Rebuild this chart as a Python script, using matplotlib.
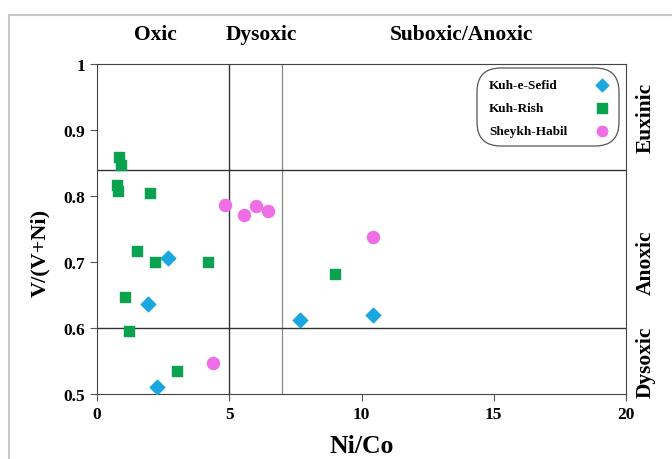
import matplotlib.pyplot as plt
from matplotlib.patches import Rectangle, FancyBboxPatch

# Ni/Co vs V/(V+Ni) data
sefid_x = [2.68, 1.93, 7.66, 10.43, 2.27]
sefid_y = [0.706, 0.636, 0.612, 0.620, 0.511]

rish_x = [0.84, 0.90, 0.74, 0.81, 2.02, 1.52, 2.20, 4.20, 9.01, 1.07, 1.20, 3.02]
rish_y = [0.859, 0.847, 0.817, 0.808, 0.805, 0.717, 0.700, 0.700, 0.682, 0.647, 0.596, 0.535]

habil_x = [4.85, 5.56, 6.01, 6.48, 10.43, 4.39]
habil_y = [0.786, 0.771, 0.785, 0.777, 0.738, 0.547]

x_ticks = [0, 5, 10, 15, 20]
y_ticks = [0.5, 0.6, 0.7, 0.8, 0.9, 1.0]
y_ticklabels = ['0.5', '0.6', '0.7', '0.8', '0.9', '1']

plt.rcParams['font.family'] = ['Liberation Serif', 'DejaVu Serif']
plt.rcParams['font.weight'] = 'bold'

W, H = 672, 460
fig = plt.figure(figsize=(W / 100, H / 100), dpi=100)
ax = fig.add_axes([97 / W, 1 - 395 / H, 529 / W, 330 / H])

def ax_xy(px, py):
    # pixel position -> axes fraction
    return (px - 97) / 529, (395 - py) / 330

# light frame around the figure
fig.patches.append(Rectangle((9 / W, -0.01), 1.0, 1 - 16 / H + 0.01, transform=fig.transFigure,
                             fill=False, edgecolor='#c8c8c8', linewidth=1.5))

# boundary lines
ax.axvline(5, color='#333333', lw=1.0)
ax.axvline(7, color='#888888', lw=0.9)
ax.axhline(0.84, color='#333333', lw=1.0)
ax.axhline(0.6, color='#333333', lw=1.0)

groups = [
    ('Kuh-e-Sefid', sefid_x, sefid_y, 'D', 55, '#1aa7e0'),
    ('Kuh-Rish', rish_x, rish_y, 's', 60, '#0aa14f'),
    ('Sheykh-Habil', habil_x, habil_y, 'o', 75, '#ee6ee6'),
]
for name, gx, gy, mk, sz, col in groups:
    ax.scatter(gx, gy, marker=mk, s=sz, color=col, zorder=3)

ax.set_xlim(0, 20)
ax.set_ylim(0.5, 1.0)
ax.set_xticks(x_ticks)
ax.set_yticks(y_ticks)
ax.set_yticklabels(y_ticklabels)
ax.tick_params(labelsize=12.5, length=5, color='#555555')
for lab in ax.get_xticklabels() + ax.get_yticklabels():
    lab.set_fontweight('bold')
for s in ax.spines.values():
    s.set_color('#444444')

ax.set_xlabel('Ni/Co', fontsize=18.5, fontweight='bold', labelpad=9)
ax.set_ylabel('V/(V+Ni)', fontsize=16, fontweight='bold')
ax.yaxis.set_label_coords(-0.088, 0.43)

# zone labels on top
for xv, txt in [(2.2, 'Oxic'), (6.2, 'Dysoxic'), (13.8, 'Suboxic/Anoxic')]:
    ax.text(xv, 1.045, txt, ha='center', va='center', fontsize=15.5, fontweight='bold')

# zone labels on the right
for yv, txt in [(0.92, 'Euxinic'), (0.70, 'Anoxic'), (0.55, 'Dysoxic')]:
    ax.text(20.75, yv, txt, rotation=90, ha='center', va='center', fontsize=15.5, fontweight='bold')

# legend box: labels on the left, markers on the right
x0, y1 = ax_xy(477, 69)
x1, y0 = ax_xy(619, 147)
ax.add_patch(FancyBboxPatch((x0, y0), x1 - x0, y1 - y0, transform=ax.transAxes,
                            boxstyle='round,pad=0,rounding_size=0.045', mutation_aspect=529 / 330,
                            facecolor='white', edgecolor='#555555', lw=0.9, zorder=4))
for (name, gx, gy, mk, sz, col), py in zip(groups, [86, 109, 132]):
    tx, ty = ax_xy(489, py)
    mx, _ = ax_xy(602, py)
    ax.text(tx, ty, name, transform=ax.transAxes, ha='left', va='center',
            fontsize=9.5, fontweight='bold', zorder=5)
    ax.scatter([mx], [ty], transform=ax.transAxes, marker=mk, s=sz * 0.75,
               color=col, zorder=5, clip_on=False)

fig.savefig('out.png', dpi=100)
